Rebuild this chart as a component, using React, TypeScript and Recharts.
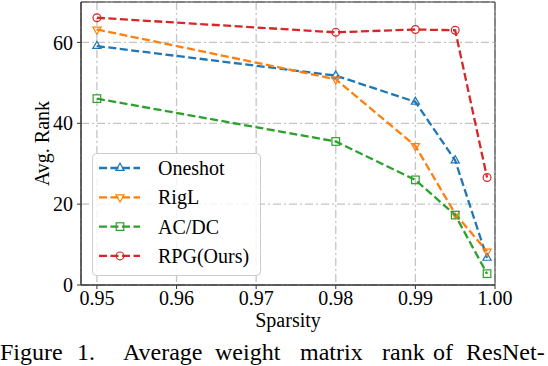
import { CartesianGrid, Legend, Line, LineChart, ReferenceArea, XAxis, YAxis } from "recharts";

const sparsity = [0.95, 0.98, 0.99, 0.995, 0.999];
const oneshot = [59.1, 51.8, 45.3, 30.8, 6.7];
const rigl = [63.2, 50.9, 34.4, 17.6, 8.3];
const acdc = [46.1, 35.5, 26.0, 17.3, 2.8];
const rpg = [66.1, 62.5, 63.2, 63.0, 26.6];

const xTicks = [0.95, 0.96, 0.97, 0.98, 0.99, 1.0];
const yTicks = [0, 20, 40, 60];

const captionWords = ["Figure", "1.", "Average", "weight", "matrix", "rank", "of", "ResNet-"];
const captionX = [0, 77, 123, 215, 300, 382, 433, 466];

const data = sparsity.map((s, i) => ({
  s,
  oneshot: oneshot[i],
  rigl: rigl[i],
  acdc: acdc[i],
  rpg: rpg[i],
}));

const series = [
  { key: "oneshot", name: "Oneshot", color: "#1f77b4", marker: "up" },
  { key: "rigl", name: "RigL", color: "#ff7f0e", marker: "down" },
  { key: "acdc", name: "AC/DC", color: "#2ca02c", marker: "square" },
  { key: "rpg", name: "RPG(Ours)", color: "#d62728", marker: "circle" },
];

const FONT = '"Liberation Serif", "Times New Roman", serif';

function Marker({ shape, cx, cy, color }: any) {
  if (cx == null || cy == null) return null;
  const common = { fill: "none", stroke: color, strokeWidth: 1.2 };
  if (shape === "up")
    return <polygon points={`${cx},${cy - 4.7} ${cx - 4.1},${cy + 2.35} ${cx + 4.1},${cy + 2.35}`} {...common} />;
  if (shape === "down")
    return <polygon points={`${cx},${cy + 4.7} ${cx - 4.1},${cy - 2.35} ${cx + 4.1},${cy - 2.35}`} {...common} />;
  if (shape === "square") return <rect x={cx - 3.8} y={cy - 3.8} width={7.6} height={7.6} {...common} />;
  return <circle cx={cx} cy={cy} r={3.9} {...common} />;
}

function LegendBox() {
  return (
    <svg width={170} height={124} style={{ display: "block", fontFamily: FONT }}>
      <rect x={0.5} y={0.5} width={168} height={122} rx={4} fill="#fff" fillOpacity={0.8} stroke="#cccccc" />
      {series.map((s, i) => {
        const y = 15 + i * 29.3;
        return (
          <g key={s.key}>
            <line x1={7} x2={48} y1={y} y2={y} stroke={s.color} strokeWidth={2.3} strokeDasharray="8 3.5" />
            <Marker shape={s.marker} cx={28} cy={y} color={s.color} />
            <text x={66} y={y + 7} fontSize={20} fontFamily={FONT} fill="#000">
              {s.name}
            </text>
          </g>
        );
      })}
    </svg>
  );
}

function YLabel() {
  return (
    <text x={48.5} y={143.5} transform="rotate(-90 48.5 143.5)" textAnchor="middle" fontSize={20} fontFamily={FONT} fill="#000">
      Avg. Rank
    </text>
  );
}

export default function App() {
  const tickStyle = { fontSize: 20, fontFamily: FONT, fill: "#000", style: { fontFamily: FONT } };
  return (
    <div style={{ position: "absolute", left: 0, top: 0, width: 548, height: 366, background: "#fff", fontFamily: FONT }}>
      <svg width={548} height={366} style={{ position: "absolute", left: 0, top: 0 }}>
        {captionWords.map((w, i) => (
          <text key={w} x={captionX[i]} y={360} fontSize={24} fontFamily={FONT} fill="#000">
            {w}
          </text>
        ))}
      </svg>
      <div style={{ position: "absolute", left: 0, top: 0 }}>
        <LineChart
          width={548}
          height={340}
          data={data}
          margin={{ top: 2, right: 53, left: 21, bottom: 5 }}
          style={{ fontFamily: FONT }}
        >
          <CartesianGrid stroke="#c4c4c4" strokeWidth={1.3} strokeDasharray="8 3 2 3" />
          <XAxis
            dataKey="s"
            type="number"
            domain={[0.948, 1.0]}
            ticks={xTicks}
            allowDataOverflow
            tickFormatter={(v: number) => v.toFixed(2)}
            height={50}
            tick={tickStyle}
            tickSize={4}
            tickMargin={2}
            stroke="#333"
            label={{ value: "Sparsity", position: "insideBottom", offset: 8.5, style: { fontSize: 20, fontFamily: FONT, fill: "#000" } }}
          />
          <YAxis
            type="number"
            domain={[0, 70]}
            ticks={yTicks}
            width={60}
            tick={tickStyle}
            tickSize={4}
            tickMargin={4}
            stroke="#333"
            label={{ content: () => <YLabel /> }}
          />
          <ReferenceArea x1={0.948} x2={1.0} y1={0} y2={70} fill="none" stroke="#333" strokeWidth={1} />
          <Legend
            layout="vertical"
            align="center"
            verticalAlign="middle"
            content={() => <LegendBox />}
            wrapperStyle={{ position: "absolute", left: 92, top: 153, width: 170, height: 124 }}
          />
          {series.map((s) => (
            <Line
              key={s.key}
              dataKey={s.key}
              name={s.name}
              stroke={s.color}
              strokeWidth={2.3}
              strokeDasharray="8 3.5"
              isAnimationActive={false}
              dot={(p: any) => <Marker key={`${s.key}-${p.index}`} shape={s.marker} cx={p.cx} cy={p.cy} color={s.color} />}
              activeDot={false}
            />
          ))}
        </LineChart>
      </div>
    </div>
  );
}
